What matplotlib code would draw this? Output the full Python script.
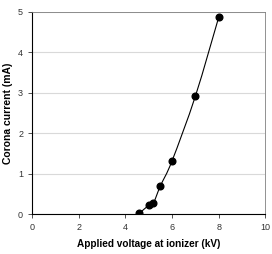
import matplotlib
matplotlib.use("Agg")
import matplotlib.pyplot as plt
from matplotlib.path import Path
from matplotlib.patches import PathPatch

# données
tension = [4.6, 5.0, 5.2, 5.5, 6.0, 7.0, 8.0]
courant = [0.02, 0.22, 0.28, 0.70, 1.32, 2.92, 4.87]

plt.rcParams['font.family'] = ['Liberation Sans', 'DejaVu Sans']

fig, ax = plt.subplots(figsize=(2.72, 2.54), dpi=100)
fig.subplots_adjust(left=0.118, right=0.976, top=0.954, bottom=0.157)

# courbe lissée (style tableur) : bezier de type Catmull-Rom
pts = list(zip(tension, courant))
verts = [pts[0]]
codes = [Path.MOVETO]
n = len(pts)
for i in range(n - 1):
    p0 = pts[max(i - 1, 0)]
    p1 = pts[i]
    p2 = pts[i + 1]
    p3 = pts[min(i + 2, n - 1)]
    c1 = (p1[0] + (p2[0] - p0[0]) / 6, p1[1] + (p2[1] - p0[1]) / 6)
    c2 = (p2[0] - (p3[0] - p1[0]) / 6, p2[1] - (p3[1] - p1[1]) / 6)
    verts += [c1, c2, p2]
    codes += [Path.CURVE4] * 3
ax.add_patch(PathPatch(Path(verts, codes), facecolor="none", edgecolor="black",
                       linewidth=0.8, zorder=3))
ax.plot(tension, courant, "o", color="black", markersize=4.8, zorder=4)

ax.set_xlim(0, 10)
ax.set_ylim(0, 5)
ax.set_xticks(range(0, 11, 2))
ax.set_yticks(range(0, 6))
ax.yaxis.grid(True, color="#d9d9d9", linewidth=0.8)
ax.set_axisbelow(True)

for s in ["top", "right"]:
    ax.spines[s].set_color("#808080")
    ax.spines[s].set_linewidth(0.6)
for s in ["left", "bottom"]:
    ax.spines[s].set_color("black")
    ax.spines[s].set_linewidth(0.8)

ax.tick_params(labelsize=6.5, length=3, width=0.6, colors="#333333")
ax.set_xlabel("Applied voltage at ionizer (kV)", fontsize=7.2, fontweight="bold", labelpad=5)
ax.set_ylabel("Corona current (mA)", fontsize=7.5, fontweight="bold", labelpad=4)

fig.savefig("out.png", dpi=100)
